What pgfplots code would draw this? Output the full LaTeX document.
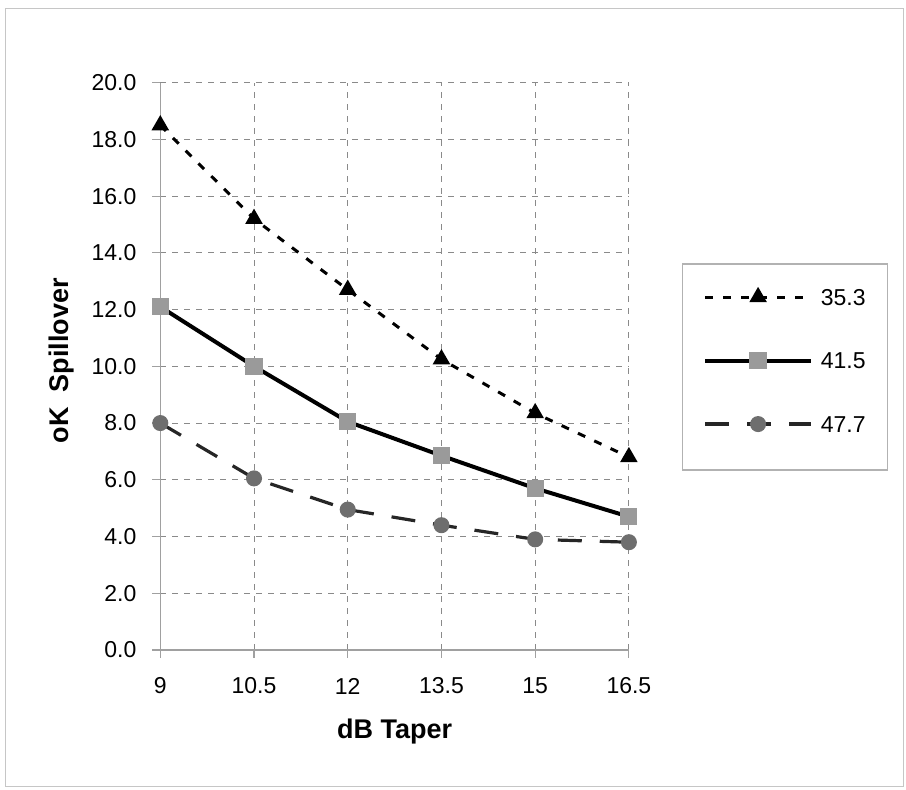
\documentclass[border=0pt]{standalone}
\usepackage{pgfplots}
\pgfplotsset{compat=1.18}
\usepackage{fontspec}
\setmainfont{Liberation Sans}
\definecolor{gridgray}{HTML}{8A8A8A}
\definecolor{axgray}{HTML}{A0A0A0}
\definecolor{markgray}{HTML}{9A9A9A}
\definecolor{circgray}{HTML}{6E6E6E}
\begin{document}
\begin{tikzpicture}[x=1pt,y=1pt]
\useasboundingbox (0,0) rectangle (453,395);
\draw[gray!45, line width=0.5pt] (2.5,1.5) rectangle (451.5,390.5);
\begin{axis}[
  at={(80.15pt,70pt)}, anchor=south west,
  scale only axis, width=234.3pt, height=283.65pt,
  xmin=9, xmax=16.5, ymin=0, ymax=20,
  xtick={9,10.5,12,13.5,15,16.5},
  xticklabels={9,10.5,12,13.5,15,16.5},
  ytick={0,2,...,20},
  yticklabel={\pgfmathprintnumber[fixed,fixed zerofill,precision=1]{\tick}},
  /pgf/number format/assume math mode=true,
  axis lines=left,
  axis line style={-, axgray, line width=0.7pt},
  tick align=outside, major tick length=4pt,
  tick style={axgray, line width=0.6pt},
  grid=major,
  major grid style={gridgray, line width=0.5pt, dash pattern=on 3pt off 3pt},
  tick label style={font=\fontsize{11.5}{13}\selectfont},
  yticklabel style={anchor=east, inner sep=0pt, xshift=-7.75pt},
  xticklabel style={anchor=center, inner sep=0pt, yshift=-14pt},
  xlabel={\textbf{dB Taper}},
  ylabel={\textbf{oK\ \ Spillover}},
  label style={font=\fontsize{13.5}{15}\selectfont},
  xlabel style={at={(axis description cs:0.5,-0.143)}, anchor=center},
  ylabel style={at={(axis description cs:-0.2115,0.51)}, anchor=center, rotate=0},
  legend image code/.code={\draw[mark repeat=2,mark phase=2,#1] plot coordinates {(0pt,0pt) (26.5pt,0pt) (53pt,0pt)};},
  legend style={draw=none, fill=none, at={(axis description cs:1.1575,0.6369)}, anchor=north west,
    inner sep=0pt, row sep=23.75pt, column sep=3.85pt,
    font=\fontsize{11.5}{13}\selectfont,
    nodes={inner sep=0pt, text height=8pt, text depth=0pt, anchor=west}},
  clip=false,
]
\addplot[black, line width=1.5pt, dash pattern=on 4pt off 5pt, mark=triangle*, mark size=3.6pt, mark options={solid, fill=black, draw=black}]
  coordinates {(9,18.5)(10.5,15.2)(12,12.7)(13.5,10.25)(15,8.35)(16.5,6.8)};
\addlegendentry{35.3}
\addplot[black, line width=2pt, mark=square*, mark size=3.3pt, mark options={solid, fill=markgray, draw=markgray}]
  coordinates {(9,12.1)(10.5,10.0)(12,8.05)(13.5,6.85)(15,5.7)(16.5,4.7)};
\addlegendentry{41.5}
\addplot[black!85, line width=1.6pt, dash pattern=on 12pt off 9pt, mark=*, mark size=3.2pt, mark options={solid, fill=circgray, draw=circgray}]
  coordinates {(9,8.0)(10.5,6.05)(12,4.95)(13.5,4.4)(15,3.9)(16.5,3.8)};
\addlegendentry{47.7}
\end{axis}
\draw[gray!60, line width=0.6pt] (341.35,263) rectangle (443.85,160);
\end{tikzpicture}
\end{document}
